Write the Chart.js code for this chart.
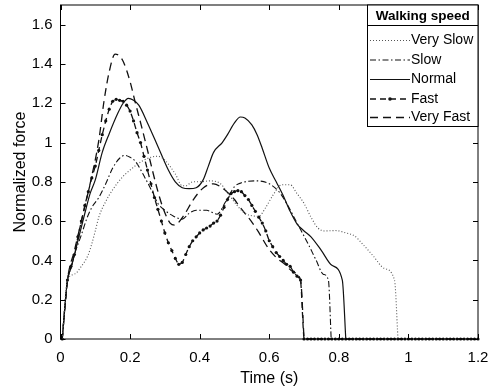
<!DOCTYPE html>
<html><head><meta charset="utf-8">
<script src="https://cdn.jsdelivr.net/npm/chart.js@4/dist/chart.umd.min.js"></script>
<style>html,body{margin:0;padding:0;background:#fff;}</style>
</head><body>
<canvas id="c" width="489" height="391"></canvas>
<script>
// ---- data ----
const xTickValues = [0, 0.2, 0.4, 0.6, 0.8, 1, 1.2];
const yTickValues = [0, 0.2, 0.4, 0.6, 0.8, 1, 1.2, 1.4, 1.6];
const seriesNames = ['Very Slow', 'Slow', 'Normal', 'Fast', 'Very Fast'];

const verySlowT = [0.005,0.02,0.04,0.06,0.08,0.09,0.10,0.11,0.13,0.15,0.176,0.20,0.234,0.26,0.28,0.30,0.33,0.35,0.36,0.38,0.40,0.43,0.46,0.49,0.51,0.53,0.57,0.59,0.61,0.636,0.66,0.68,0.70,0.72,0.74,0.76,0.79,0.82,0.845,0.87,0.90,0.93,0.96,0.97];
const verySlowV = [0,0.30,0.33,0.37,0.43,0.485,0.55,0.62,0.70,0.76,0.82,0.86,0.905,0.925,0.93,0.91,0.84,0.78,0.78,0.80,0.80,0.805,0.79,0.72,0.675,0.64,0.625,0.67,0.73,0.785,0.785,0.74,0.69,0.62,0.565,0.55,0.552,0.54,0.525,0.48,0.42,0.36,0.30,0];

const slowT = [0.005,0.02,0.03,0.042,0.06,0.075,0.09,0.11,0.13,0.15,0.17,0.185,0.20,0.215,0.243,0.262,0.28,0.30,0.325,0.35,0.37,0.39,0.42,0.45,0.475,0.50,0.52,0.56,0.60,0.63,0.65,0.68,0.71,0.735,0.755,0.77,0.778];
const slowV = [0,0.30,0.36,0.44,0.53,0.61,0.67,0.72,0.79,0.87,0.92,0.935,0.925,0.905,0.82,0.755,0.69,0.655,0.625,0.61,0.64,0.655,0.655,0.635,0.70,0.775,0.795,0.805,0.79,0.745,0.69,0.59,0.49,0.40,0.33,0.30,0];

const normalT = [0.005,0.02,0.03,0.05,0.07,0.085,0.10,0.12,0.14,0.165,0.18,0.195,0.21,0.225,0.25,0.28,0.31,0.33,0.35,0.37,0.39,0.41,0.425,0.44,0.465,0.48,0.50,0.517,0.53,0.55,0.565,0.58,0.60,0.62,0.64,0.66,0.68,0.70,0.72,0.75,0.78,0.81,0.82];
const normalV = [0,0.30,0.36,0.50,0.64,0.74,0.81,0.95,1.045,1.15,1.20,1.225,1.215,1.19,1.10,0.98,0.86,0.80,0.77,0.765,0.77,0.81,0.88,0.95,1.00,1.04,1.10,1.13,1.125,1.09,1.04,0.97,0.87,0.80,0.73,0.65,0.585,0.55,0.52,0.45,0.375,0.30,0];

const fastT = [0.005,0.02,0.03,0.04,0.05,0.06,0.07,0.08,0.09,0.10,0.11,0.12,0.13,0.14,0.15,0.16,0.17,0.18,0.19,0.20,0.21,0.22,0.23,0.24,0.25,0.26,0.27,0.28,0.29,0.30,0.31,0.32,0.33,0.34,0.35,0.36,0.37,0.38,0.39,0.40,0.41,0.42,0.43,0.44,0.45,0.46,0.47,0.48,0.49,0.50,0.51,0.52,0.53,0.54,0.55,0.56,0.57,0.58,0.59,0.60,0.61,0.62,0.63,0.64,0.65,0.66,0.67,0.68,0.69,0.70,0.71,0.72,0.73,0.74,0.75,0.76,0.77,0.78,0.79,0.80,0.81,0.82,0.83,0.84,0.85,0.86,0.87,0.88,0.89,0.90,0.91,0.92,0.93,0.94,0.95,0.96,0.97,0.98,0.99,1.00,1.01,1.02,1.03,1.04,1.05,1.06,1.07,1.08,1.09,1.10,1.11,1.12,1.13,1.14,1.15,1.16,1.17,1.18,1.19,1.20];
const fastV = [0,0.30,0.37,0.43,0.52,0.60,0.68,0.75,0.82,0.88,0.96,1.04,1.11,1.17,1.21,1.22,1.215,1.21,1.19,1.16,1.11,1.05,1.00,0.93,0.86,0.79,0.72,0.66,0.60,0.54,0.49,0.45,0.41,0.38,0.39,0.43,0.47,0.50,0.52,0.54,0.555,0.565,0.575,0.59,0.60,0.63,0.67,0.71,0.74,0.75,0.755,0.75,0.73,0.71,0.68,0.65,0.62,0.59,0.55,0.50,0.47,0.44,0.42,0.40,0.38,0.37,0.34,0.32,0.30,0,0,0,0,0,0,0,0,0,0,0,0,0,0,0,0,0,0,0,0,0,0,0,0,0,0,0,0,0,0,0,0,0,0,0,0,0,0,0,0,0,0,0,0,0,0,0,0,0,0,0];

const veryFastT = [0.005,0.02,0.04,0.06,0.085,0.11,0.125,0.14,0.157,0.17,0.181,0.20,0.214,0.234,0.253,0.277,0.296,0.315,0.328,0.353,0.382,0.411,0.44,0.46,0.478,0.50,0.512,0.53,0.55,0.569,0.598,0.62,0.645,0.67,0.69,0.70];
const veryFastV = [0,0.30,0.45,0.60,0.79,1.01,1.21,1.36,1.45,1.44,1.41,1.31,1.21,1.075,0.94,0.77,0.66,0.59,0.58,0.625,0.71,0.77,0.79,0.775,0.75,0.71,0.68,0.64,0.595,0.545,0.46,0.415,0.38,0.34,0.30,0];

const pts = (T, V) => T.map((t, i) => ({x: t, y: V[i]}));
const FONT = '"Liberation Sans", Arial, sans-serif';

const datasets = [
  {label: seriesNames[0], data: pts(verySlowT, verySlowV), borderColor: '#555', borderWidth: 1.1, borderDash: [1, 2], pointRadius: 0, cubicInterpolationMode: 'monotone'},
  {label: seriesNames[1], data: pts(slowT, slowV), borderColor: '#111', borderWidth: 1.1, borderDash: [6, 2.5, 1.5, 2.5], pointRadius: 0, cubicInterpolationMode: 'monotone'},
  {label: seriesNames[2], data: pts(normalT, normalV), borderColor: '#111', borderWidth: 1.2, borderDash: [], pointRadius: 0, cubicInterpolationMode: 'monotone'},
  {label: seriesNames[3], data: pts(fastT, fastV), borderColor: '#111', borderWidth: 1.3, borderDash: [6, 4], pointRadius: 1.6, pointBackgroundColor: '#111', pointBorderWidth: 0, pointBorderColor: '#111', tension: 0.2, clip: 4},
  {label: seriesNames[4], data: pts(veryFastT, veryFastV), borderColor: '#111', borderWidth: 1.3, borderDash: [8, 5], pointRadius: 0, cubicInterpolationMode: 'monotone'}
];

const framePlugin = {
  id: 'frame',
  afterDraw(chart) {
    const ctx = chart.ctx, a = chart.chartArea;
    const xs = chart.scales.x, ys = chart.scales.y;
    ctx.save();
    ctx.setLineDash([]);
    ctx.strokeStyle = '#000';
    ctx.lineWidth = 1;
    ctx.strokeRect(a.left, a.top, a.right - a.left, a.bottom - a.top);
    ctx.beginPath();
    const L = 5;
    xTickValues.forEach(v => {
      const px = Math.round(xs.getPixelForValue(v)) + 0.5;
      ctx.moveTo(px, a.bottom); ctx.lineTo(px, a.bottom - L);
      ctx.moveTo(px, a.top); ctx.lineTo(px, a.top + L);
    });
    yTickValues.forEach(v => {
      const py = Math.round(ys.getPixelForValue(v)) + 0.5;
      ctx.moveTo(a.left, py); ctx.lineTo(a.left + L, py);
      ctx.moveTo(a.right, py); ctx.lineTo(a.right - L, py);
    });
    ctx.stroke();

    // legend box
    const bx0 = 367.5, bx1 = a.right, by0 = a.top, by1 = 126.5;
    ctx.fillStyle = '#fff';
    ctx.fillRect(bx0, by0, bx1 - bx0, by1 - by0);
    ctx.strokeRect(bx0, by0, bx1 - bx0, by1 - by0);
    ctx.beginPath(); ctx.moveTo(bx0, 25.5); ctx.lineTo(bx1, 25.5); ctx.stroke();
    ctx.fillStyle = '#000';
    ctx.font = 'bold 13.5px ' + FONT;
    ctx.textAlign = 'center'; ctx.textBaseline = 'middle';
    ctx.fillText('Walking speed', (bx0 + bx1) / 2, 16);
    ctx.font = '14px ' + FONT;
    ctx.textAlign = 'left';
    const rows = [40, 59.5, 79, 98.5, 117];
    chart.data.datasets.forEach((ds, i) => {
      const y = rows[i];
      ctx.save();
      ctx.strokeStyle = ds.borderColor;
      ctx.lineWidth = ds.borderWidth;
      ctx.setLineDash(ds.borderDash || []);
      ctx.beginPath(); ctx.moveTo(370, y + 0.5); ctx.lineTo(410, y + 0.5); ctx.stroke();
      if (ds.pointRadius > 0) {
        ctx.setLineDash([]);
        ctx.fillStyle = ds.pointBackgroundColor;
        ctx.beginPath(); ctx.arc(390, y + 0.5, 1.8, 0, Math.PI * 2); ctx.fill();
      }
      ctx.restore();
      ctx.fillStyle = '#000';
      ctx.fillText(ds.label, 411, y + 0.5);
    });
    ctx.restore();
  }
};

new Chart(document.getElementById('c'), {
  type: 'line',
  data: {datasets},
  options: {
    responsive: false,
    animation: false,
    devicePixelRatio: 1,
    layout: {padding: {left: 0, top: 5, right: 11, bottom: 0}},
    plugins: {legend: {display: false}, tooltip: {enabled: false}},
    scales: {
      x: {
        type: 'linear', min: 0, max: 1.2,
        afterBuildTicks: s => { s.ticks = xTickValues.map(v => ({value: v})); },
        afterFit: s => { s.height = 52; s.paddingLeft = 0; s.paddingRight = 0; s.paddingTop = 0; s.paddingBottom = 0; },
        grid: {display: false, drawTicks: false}, border: {display: false},
        ticks: {color: '#000', font: {family: FONT, size: 15}, padding: 10, maxRotation: 0, callback: v => String(v)},
        title: {display: true, text: 'Time (s)', color: '#000', font: {family: FONT, size: 16}, padding: {top: 2, bottom: 3}}
      },
      y: {
        type: 'linear', min: 0, max: 1.7,
        afterBuildTicks: s => { s.ticks = yTickValues.map(v => ({value: v})); },
        afterFit: s => { s.width = 60.5; s.paddingLeft = 0; s.paddingRight = 0; s.paddingTop = 0; s.paddingBottom = 0; },
        grid: {display: false, drawTicks: false}, border: {display: false},
        ticks: {color: '#000', font: {family: FONT, size: 15}, padding: 8, callback: v => String(v)},
        title: {display: true, text: 'Normalized force', color: '#000', font: {family: FONT, size: 16}, padding: {top: 11, bottom: 0}}
      }
    }
  },
  plugins: [framePlugin]
});
</script>
</body></html>
